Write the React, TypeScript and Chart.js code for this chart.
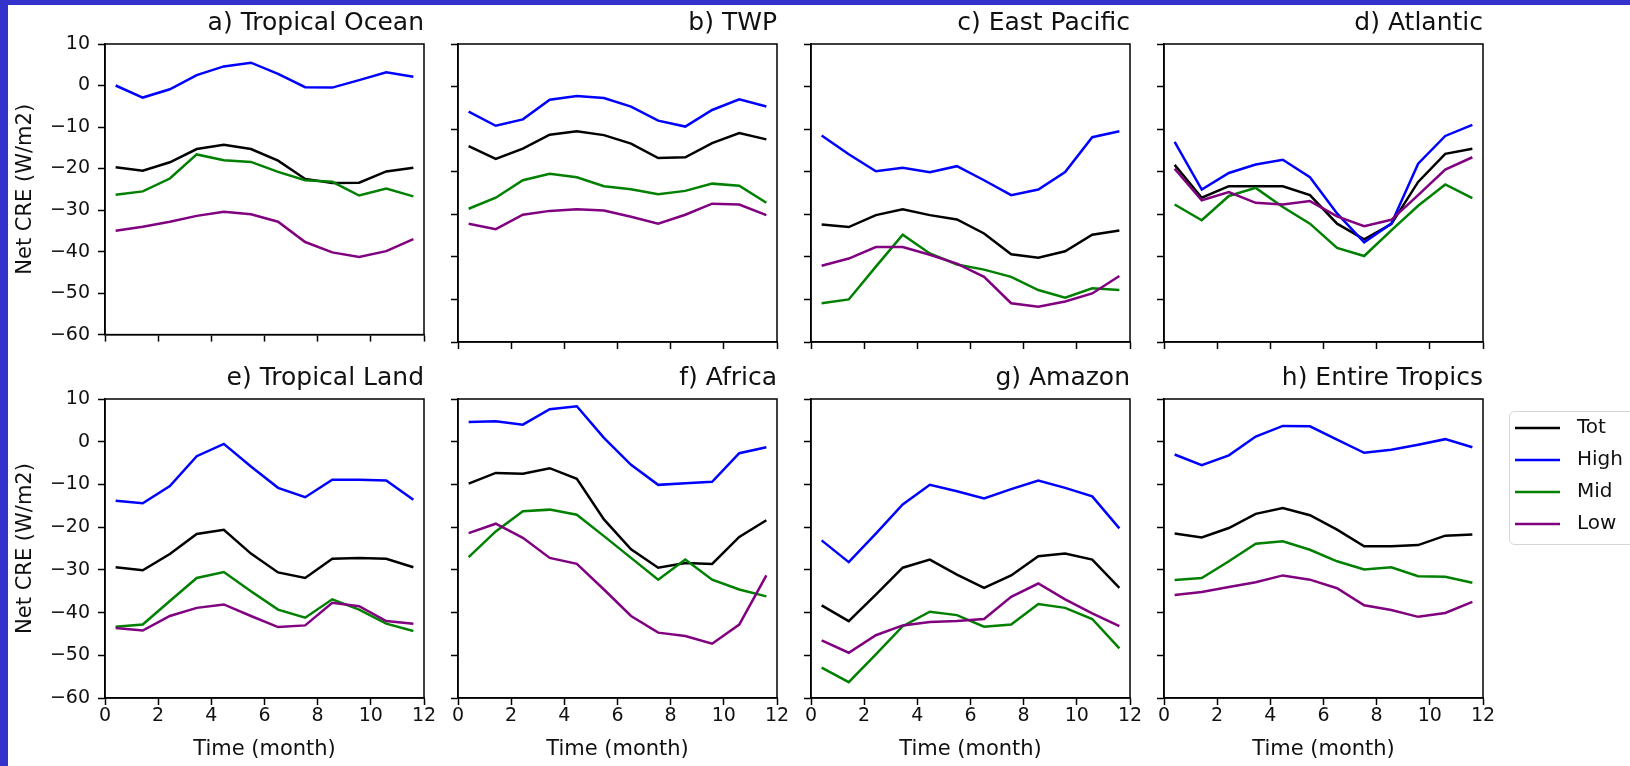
import React, { useEffect, useRef } from 'react';
import { Chart, registerables } from 'chart.js';

Chart.register(...registerables);
Chart.defaults.font.family = '"DejaVu Sans", sans-serif';

// ---------------- data ----------------
const months = [0.4, 1.42, 2.44, 3.45, 4.47, 5.49, 6.51, 7.53, 8.55, 9.56, 10.58, 11.6];
const seriesNames = ['Tot', 'High', 'Mid', 'Low'];
const seriesColors = ['#000000', '#0000ff', '#008000', '#800080'];
const panelTitles = [
  'a) Tropical Ocean', 'b) TWP', 'c) East Pacific', 'd) Atlantic',
  'e) Tropical Land', 'f) Africa', 'g) Amazon', 'h) Entire Tropics',
];
const yTickValues = [-60, -50, -40, -30, -20, -10, 0, 10];
const xTickValues = [0, 2, 4, 6, 8, 10, 12];

// a) Tropical Ocean
const oceanTot = [-19.7, -20.5, -18.5, -15.3, -14.3, -15.3, -18.1, -22.5, -23.5, -23.4, -20.7, -19.8];
const oceanHigh = [0, -2.9, -0.9, 2.5, 4.6, 5.5, 2.8, -0.4, -0.5, 1.3, 3.2, 2.1];
const oceanMid = [-26.3, -25.5, -22.4, -16.6, -18.0, -18.4, -20.8, -22.8, -23.2, -26.5, -24.8, -26.7];
const oceanLow = [-35.0, -34.0, -32.8, -31.4, -30.4, -31.0, -32.8, -37.7, -40.2, -41.3, -39.9, -37.0];

// b) TWP
const twpTot = [-14.0, -17.0, -14.6, -11.3, -10.5, -11.4, -13.4, -16.8, -16.6, -13.3, -10.9, -12.4];
const twpHigh = [-5.9, -9.2, -7.7, -3.1, -2.2, -2.7, -4.7, -8.0, -9.4, -5.5, -3.0, -4.7];
const twpMid = [-28.7, -26.1, -22.0, -20.5, -21.3, -23.4, -24.1, -25.3, -24.5, -22.8, -23.3, -27.3];
const twpLow = [-32.2, -33.5, -30.1, -29.2, -28.8, -29.1, -30.6, -32.2, -30.1, -27.5, -27.7, -30.2];

// c) East Pacific
const epacTot = [-32.4, -33.0, -30.2, -28.8, -30.2, -31.2, -34.5, -39.4, -40.2, -38.7, -34.8, -33.8];
const epacHigh = [-11.5, -15.9, -19.9, -19.1, -20.1, -18.7, -22.0, -25.5, -24.2, -20.1, -11.9, -10.5];
const epacMid = [-50.9, -50.0, -42.3, -34.8, -39.2, -41.8, -43.0, -44.7, -47.8, -49.6, -47.4, -47.8];
const epacLow = [-42.1, -40.4, -37.7, -37.7, -39.5, -41.6, -44.7, -50.9, -51.7, -50.5, -48.6, -44.5];

// d) Atlantic
const atlTot = [-18.4, -26.1, -23.4, -23.4, -23.4, -25.5, -32.2, -35.9, -32.3, -22.4, -15.8, -14.6];
const atlHigh = [-13.0, -24.2, -20.3, -18.3, -17.2, -21.3, -29.8, -36.6, -32.2, -18.1, -11.6, -9.0];
const atlMid = [-27.7, -31.4, -25.7, -23.8, -28.3, -32.2, -37.9, -39.8, -33.8, -28.0, -23.0, -26.2];
const atlLow = [-19.3, -26.7, -24.8, -27.3, -27.7, -26.9, -30.5, -32.8, -31.3, -25.5, -19.5, -16.6];

// e) Tropical Land
const landTot = [-29.4, -30.1, -26.3, -21.6, -20.6, -26.2, -30.6, -31.9, -27.4, -27.2, -27.4, -29.4];
const landHigh = [-13.8, -14.4, -10.4, -3.4, -0.5, -5.8, -10.8, -13.0, -8.9, -8.9, -9.1, -13.6];
const landMid = [-43.3, -42.8, -37.3, -31.9, -30.5, -35.0, -39.3, -41.2, -36.9, -39.3, -42.6, -44.3];
const landLow = [-43.6, -44.2, -40.8, -38.9, -38.1, -40.8, -43.4, -43.0, -37.7, -38.5, -42.0, -42.6];

// f) Africa
const afrTot = [-9.8, -7.3, -7.5, -6.2, -8.7, -18.2, -25.2, -29.5, -28.4, -28.6, -22.3, -18.4];
const afrHigh = [4.6, 4.8, 4.0, 7.6, 8.3, 0.9, -5.4, -10.1, -9.7, -9.4, -2.7, -1.3];
const afrMid = [-27.0, -21.0, -16.3, -15.9, -17.1, -22.1, -27.2, -32.3, -27.6, -32.3, -34.6, -36.2];
const afrLow = [-21.4, -19.2, -22.5, -27.2, -28.6, -34.6, -40.8, -44.7, -45.5, -47.3, -42.8, -31.3];

// g) Amazon
const amzTot = [-38.3, -42.0, -35.8, -29.5, -27.6, -31.1, -34.2, -31.3, -26.8, -26.2, -27.6, -34.2];
const amzHigh = [-23.1, -28.2, -21.5, -14.7, -10.1, -11.6, -13.3, -11.1, -9.1, -10.8, -12.8, -20.3];
const amzMid = [-52.9, -56.3, -49.8, -43.2, -39.8, -40.6, -43.3, -42.8, -38.0, -38.9, -41.5, -48.4];
const amzLow = [-46.5, -49.4, -45.3, -43.0, -42.2, -42.0, -41.5, -36.3, -33.2, -36.9, -40.2, -43.2];

// h) Entire Tropics
const tropTot = [-21.5, -22.4, -20.2, -16.9, -15.5, -17.2, -20.6, -24.5, -24.5, -24.2, -22.0, -21.7];
const tropHigh = [-3.0, -5.5, -3.2, 1.2, 3.7, 3.6, 0.5, -2.6, -1.9, -0.7, 0.6, -1.3];
const tropMid = [-32.4, -31.9, -28.0, -23.9, -23.3, -25.3, -28.0, -29.9, -29.4, -31.5, -31.6, -33.0];
const tropLow = [-35.9, -35.2, -34.0, -32.9, -31.3, -32.3, -34.3, -38.3, -39.4, -41.0, -40.1, -37.5];

const panelSeries = [
  [oceanTot, oceanHigh, oceanMid, oceanLow],
  [twpTot, twpHigh, twpMid, twpLow],
  [epacTot, epacHigh, epacMid, epacLow],
  [atlTot, atlHigh, atlMid, atlLow],
  [landTot, landHigh, landMid, landLow],
  [afrTot, afrHigh, afrMid, afrLow],
  [amzTot, amzHigh, amzMid, amzLow],
  [tropTot, tropHigh, tropMid, tropLow],
];

// ---------------- layout ----------------
const PAGE_W = 1630;
const PAGE_H = 766;
const PLOT_L = [105, 458, 811, 1164];
const PLOT_W = 319;
const PLOT_T = [44, 399];
const PLOT_B = [342, 698];
const FONT = '"DejaVu Sans", sans-serif';
const TEXT = '#111111';

const fmtTick = (v: number) => (v < 0 ? '\u2212' + Math.abs(v) : String(v));

const boxPlugin = {
  id: 'axesBox',
  afterDraw(chart: any) {
    const { ctx, chartArea } = chart;
    ctx.save();
    ctx.strokeStyle = '#000';
    ctx.lineWidth = 1.5;
    ctx.strokeRect(chartArea.left, chartArea.top, chartArea.right - chartArea.left, chartArea.bottom - chartArea.top);
    ctx.restore();
  },
};

const legendPlugin = {
  id: 'boxLegend',
  afterDraw(chart: any) {
    const { ctx, chartArea } = chart;
    const bx = chartArea.right + 26;
    const by = chartArea.top + 12;
    ctx.save();
    ctx.beginPath();
    ctx.roundRect(bx + 0.5, by + 0.5, 220, 133, 5);
    ctx.fillStyle = '#ffffff';
    ctx.fill();
    ctx.strokeStyle = '#d6d6d6';
    ctx.lineWidth = 1;
    ctx.stroke();
    chart.data.datasets.forEach((ds: any, i: number) => {
      const y = by + 17 + i * 32;
      ctx.beginPath();
      ctx.strokeStyle = ds.borderColor;
      ctx.lineWidth = 2.5;
      ctx.moveTo(bx + 6, y);
      ctx.lineTo(bx + 51, y);
      ctx.stroke();
      ctx.fillStyle = TEXT;
      ctx.font = '20px ' + FONT;
      ctx.textBaseline = 'middle';
      ctx.textAlign = 'left';
      ctx.fillText(ds.label, bx + 68, y);
    });
    ctx.restore();
  },
};

function Panel({ idx }: { idx: number }) {
  const ref = useRef<HTMLCanvasElement>(null);
  const col = idx % 4;
  const row = Math.floor(idx / 4);
  const isLeft = col === 0;
  const isBottom = row === 1;
  const hasLegend = idx === 7;
  const plotL = PLOT_L[col];
  const plotR = plotL + PLOT_W;
  const plotT = PLOT_T[row];
  const plotB = PLOT_B[row];
  const left = isLeft ? 8 : plotL - 12;
  const right = hasLegend ? PAGE_W : plotR + 16;
  const top = row === 0 ? 5 : 355;
  const bottom = isBottom ? PAGE_H : plotB + 12;
  const W = right - left;
  const H = bottom - top;
  const yW = plotL - left;
  const xH = bottom - plotB;
  const titleLH = 26;
  const titlePadTop = row === 0 ? 5 : 10;
  const titlePadBottom = plotT - top - titlePadTop - titleLH;

  useEffect(() => {
    const canvas = ref.current;
    if (!canvas) return;
    const series = panelSeries[idx];
    const chart = new Chart(canvas, {
      type: 'line',
      data: {
        datasets: series.map((vals, s) => ({
          label: seriesNames[s],
          data: vals.map((v, i) => ({ x: months[i], y: v })),
          borderColor: seriesColors[s],
          backgroundColor: seriesColors[s],
          borderWidth: 2.5,
          pointRadius: 0,
          tension: 0,
          fill: false,
          order: series.length - 1 - s,
        })),
      },
      options: {
        responsive: false,
        maintainAspectRatio: false,
        devicePixelRatio: 1,
        animation: false,
        events: [],
        layout: { padding: { left: 0, right: right - plotR, top: 0, bottom: 0 } },
        plugins: {
          legend: { display: false },
          tooltip: { enabled: false },
          title: {
            display: true,
            text: panelTitles[idx],
            align: 'end',
            fullSize: false,
            color: TEXT,
            font: { family: FONT, size: 25, weight: 'normal', lineHeight: titleLH + 'px' },
            padding: { top: titlePadTop, bottom: titlePadBottom },
          },
        },
        scales: {
          x: {
            type: 'linear',
            min: 0,
            max: 12,
            afterBuildTicks: (scale: any) => {
              scale.ticks = xTickValues.map((v) => ({ value: v }));
            },
            afterFit: (scale: any) => {
              scale.height = xH;
            },
            ticks: {
              display: isBottom,
              color: TEXT,
              font: { family: FONT, size: 19 },
              padding: 0,
              maxRotation: 0,
              autoSkip: false,
            },
            grid: {
              display: true,
              drawOnChartArea: false,
              drawTicks: true,
              tickLength: 7,
              tickWidth: 1.5,
              tickColor: '#000',
            },
            border: { display: true, color: '#000', width: 1.5 },
            title: {
              display: isBottom,
              text: 'Time (month)',
              color: TEXT,
              font: { family: FONT, size: 21, lineHeight: '24px' },
              padding: { top: 0, bottom: 4 },
            },
          },
          y: {
            type: 'linear',
            min: -60,
            max: 10,
            afterBuildTicks: (scale: any) => {
              scale.ticks = yTickValues.map((v) => ({ value: v }));
            },
            afterFit: (scale: any) => {
              scale.width = yW;
            },
            ticks: {
              display: isLeft,
              color: TEXT,
              font: { family: FONT, size: 19 },
              padding: 8,
              callback: (v: any) => fmtTick(Number(v)),
            },
            grid: {
              display: true,
              drawOnChartArea: false,
              drawTicks: true,
              tickLength: 7,
              tickWidth: 1.5,
              tickColor: '#000',
            },
            border: { display: true, color: '#000', width: 1.5 },
            title: {
              display: isLeft,
              text: 'Net CRE (W/m2)',
              color: TEXT,
              font: { family: FONT, size: 21, lineHeight: '24px' },
              padding: { top: 6, bottom: 0 },
            },
          },
        },
      },
      plugins: hasLegend ? [boxPlugin, legendPlugin] : [boxPlugin],
    } as any);
    return () => chart.destroy();
  }, [idx]);

  return (
    <canvas
      ref={ref}
      width={W}
      height={H}
      style={{ position: 'absolute', left, top, width: W, height: H, display: 'block' }}
    />
  );
}

export default function App() {
  return (
    <div
      style={{
        position: 'fixed',
        left: 0,
        top: 0,
        width: PAGE_W,
        height: PAGE_H,
        background: '#3333cc',
        overflow: 'hidden',
      }}
    >
      <div style={{ position: 'absolute', left: 8, top: 5, right: 0, bottom: 0, background: '#ffffff' }} />
      {panelTitles.map((_, i) => (
        <Panel key={i} idx={i} />
      ))}
    </div>
  );
}
